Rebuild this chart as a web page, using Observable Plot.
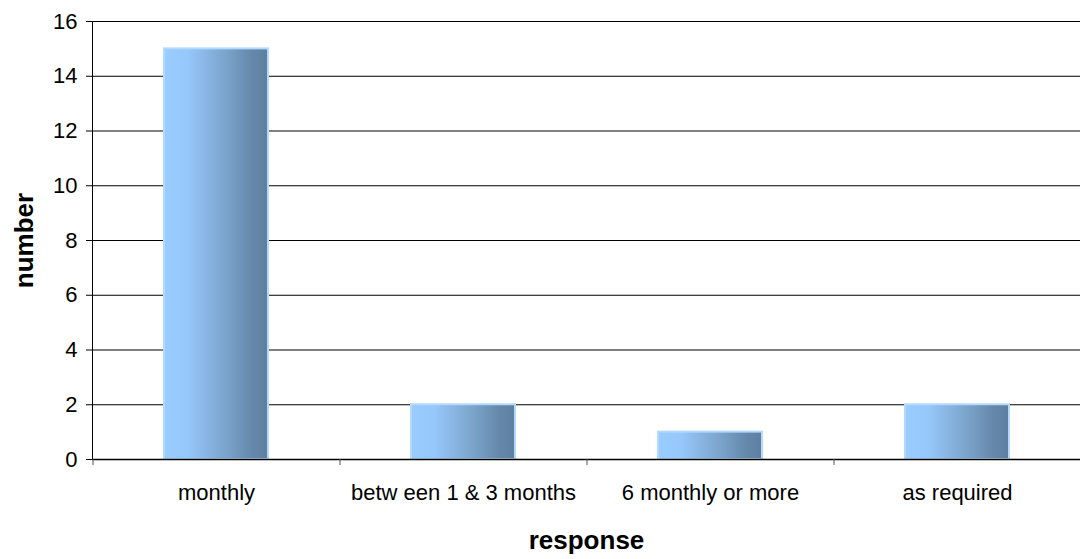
<!DOCTYPE html>
<html>
<head>
<meta charset="utf-8">
<script src="https://cdn.jsdelivr.net/npm/d3@7"></script>
<script src="https://cdn.jsdelivr.net/npm/@observablehq/plot@0.6"></script>
<style>
  body { margin: 0; background: #fff; }
  svg { display: block; }
</style>
</head>
<body>
<div id="chart"></div>
<script>
// Survey responses: how often, and how many said so
const categories = ["monthly", "betw een 1 & 3 months", "6 monthly or more", "as required"];
const counts = [15, 2, 1, 2];
const yTicks = [0, 2, 4, 6, 8, 10, 12, 14, 16];
const xTitle = "response";
const yTitle = "number";

const data = categories.map((c, i) => ({response: c, number: counts[i]}));

const W = 1080, H = 559;
const mL = 92, mR = 0, mT = 21, mB = 100;
const step = (W - mL - mR) / categories.length; // width of one category band
const font = "'Liberation Sans', Arial, Helvetica, sans-serif";

const chart = Plot.plot({
  width: W,
  height: H,
  marginLeft: mL,
  marginRight: mR,
  marginTop: mT,
  marginBottom: mB,
  style: {fontFamily: font, fontSize: "22px", color: "#000", background: "#fff", overflow: "visible"},
  x: {domain: categories, paddingInner: 0.58, paddingOuter: 0.29, label: null},
  y: {domain: [0, 16], label: null},
  marks: [
    // horizontal gridlines
    Plot.ruleY(yTicks, {stroke: "#000", strokeWidth: 1}),
    // bars with a left-to-right shaded fill
    Plot.barY(data, {x: "response", y: "number", fill: "url(#barFill)", stroke: "#b3d9ff", strokeWidth: 2}),
    // baseline and vertical axis line
    Plot.ruleY([0], {stroke: "#000", strokeWidth: 1.5}),
    Plot.frame({anchor: "left", stroke: "#000"}),
    // y axis ticks and labels
    Plot.axisY({ticks: yTicks, tickSize: 6, tickPadding: 9, label: null, fontSize: 22, stroke: "#000"}),
    // short tick marks at the boundaries between categories
    Plot.axisX({ticks: categories, tickSize: 6, dx: -step / 2, tickFormat: () => "", label: null, stroke: "#555"}),
    // category labels
    Plot.axisX({ticks: categories, tickSize: 0, tickPadding: 25, label: null, fontSize: 22}),
    // axis titles
    Plot.text([yTitle], {frameAnchor: "left", dx: -68, rotate: -90, textAnchor: "middle", lineAnchor: "middle",
      fontWeight: "bold", fontSize: 26}),
    Plot.text([xTitle], {frameAnchor: "bottom", dy: 81, textAnchor: "middle", lineAnchor: "middle",
      fontWeight: "bold", fontSize: 26})
  ]
});

// gradient used by the bar fill
const defs = d3.select(chart).insert("defs", ":first-child");
const grad = defs.append("linearGradient")
  .attr("id", "barFill")
  .attr("x1", "0%").attr("x2", "100%").attr("y1", "0%").attr("y2", "0%");
grad.append("stop").attr("offset", "0%").attr("stop-color", "#99ccff");
grad.append("stop").attr("offset", "22%").attr("stop-color", "#96c8fb");
grad.append("stop").attr("offset", "60%").attr("stop-color", "#7ba3cb");
grad.append("stop").attr("offset", "85%").attr("stop-color", "#6588aa");
grad.append("stop").attr("offset", "100%").attr("stop-color", "#5e7f9f");

document.getElementById("chart").appendChild(chart);
</script>
</body>
</html>
